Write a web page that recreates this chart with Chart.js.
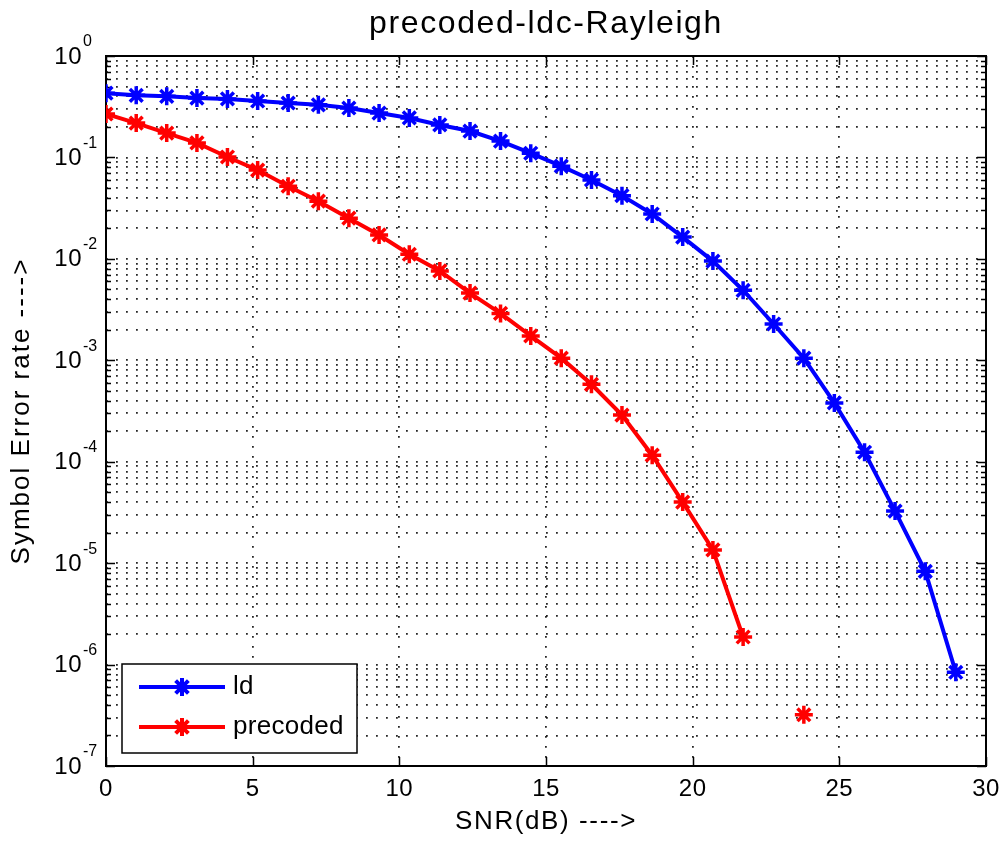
<!DOCTYPE html>
<html>
<head>
<meta charset="utf-8">
<script src="https://cdn.jsdelivr.net/npm/chart.js@4.4.1/dist/chart.umd.min.js"></script>
<style>
  html, body { margin: 0; padding: 0; background: #fff; }
  canvas { display: block; }
</style>
</head>
<body>
<canvas id="serChart" width="1003" height="845"></canvas>
<script>
// SNR points (dB), 30 points from 0 to 30
const snrDb = [0, 1.03, 2.07, 3.10, 4.14, 5.17, 6.21, 7.24, 8.28, 9.31,
               10.34, 11.38, 12.41, 13.45, 14.48, 15.52, 16.55, 17.59, 18.62, 19.66,
               20.69, 21.72, 22.76, 23.79, 24.83, 25.86, 26.90, 27.93, 28.97, 30];

// symbol error rate, null where nothing is plotted (zero errors)
const serLd = [0.43, 0.41, 0.40, 0.385, 0.377, 0.36, 0.344, 0.33, 0.307, 0.274,
               0.245, 0.209, 0.182, 0.145, 0.11, 0.082, 0.06, 0.042, 0.0277, 0.0164,
               0.0095, 0.0049, 0.00228, 0.00105, 3.8e-4, 1.24e-4, 3.26e-5, 8.3e-6, 8.4e-7, null];
const serPrecoded = [0.268, 0.218, 0.174, 0.139, 0.101, 0.075, 0.052, 0.037, 0.0252, 0.0172,
                     0.0111, 0.0076, 0.0046, 0.0029, 0.00174, 0.00105, 5.8e-4, 2.88e-4, 1.16e-4, 4.0e-5,
                     1.35e-5, 1.87e-6, null, 3.2e-7, null, null, null, null, null, null];

const xTicks = [0, 5, 10, 15, 20, 25, 30];
const yExponents = [0, -1, -2, -3, -4, -5, -6, -7];

const titleText = 'precoded-ldc-Rayleigh';
const xTitle = 'SNR(dB) ---->';
const yTitle = 'Symbol Error rate ---->';
const legendNames = ['ld', 'precoded'];
const seriesColors = ['#0000ff', '#ff0000'];

const FONT = '"Liberation Sans", Arial, Helvetica, sans-serif';

function drawText(ctx, s, x, y, size, align, spacing) {
    ctx.font = size + 'px ' + FONT;
    ctx.letterSpacing = (spacing || 0) + 'px';
    ctx.textAlign = align;
    ctx.textBaseline = 'middle';
    ctx.fillStyle = '#000';
    ctx.fillText(s, x, y);
    ctx.letterSpacing = '0px';
}

// all log gridline values 1..9 x 10^e
function logGridValues() {
    const vals = [];
    for (let e = -7; e < 0; e++) {
        for (let m = 1; m <= 9; m++) vals.push(+(m + 'e' + e));
    }
    vals.push(1);
    return vals;
}
function isDecade(v) {
    const l = Math.log10(v);
    return Math.abs(l - Math.round(l)) < 1e-9;
}

// box, inward ticks, labels, legend drawn like a MATLAB figure
const matlabAxes = {
    id: 'matlabAxes',
    beforeDatasetsDraw(chart) {
        const {ctx, chartArea: a, scales: {x, y}} = chart;
        ctx.save();
        ctx.strokeStyle = '#000';
        ctx.lineWidth = 1.5;
        ctx.beginPath();
        xTicks.forEach(v => {
            const px = Math.round(x.getPixelForValue(v)) + 0.5;
            ctx.moveTo(px, a.bottom); ctx.lineTo(px, a.bottom - 9);
            ctx.moveTo(px, a.top); ctx.lineTo(px, a.top + 9);
        });
        y.ticks.forEach(t => {
            const py = Math.round(y.getPixelForValue(t.value)) + 0.5;
            const len = isDecade(t.value) ? 9 : 5;
            ctx.moveTo(a.left, py); ctx.lineTo(a.left + len, py);
            ctx.moveTo(a.right, py); ctx.lineTo(a.right - len, py);
        });
        ctx.stroke();
        ctx.lineWidth = 2;
        ctx.strokeRect(a.left, a.top, a.right - a.left, a.bottom - a.top);
        ctx.restore();
    },
    afterDraw(chart) {
        const {ctx, chartArea: a, scales: {x, y}} = chart;
        ctx.save();
        const cx = (a.left + a.right) / 2;
        const cy = (a.top + a.bottom) / 2;

        drawText(ctx, titleText, cx, 24, 32, 'center', 1.6);

        xTicks.forEach(v => drawText(ctx, String(v), x.getPixelForValue(v), a.bottom + 23, 24, 'center', 0.5));
        drawText(ctx, xTitle, cx, a.bottom + 56, 26, 'center', 1.6);

        yExponents.forEach(e => {
            const py = y.getPixelForValue(Math.pow(10, e));
            drawText(ctx, '10', a.left - 24, py + 1, 24, 'right', 0.5);
            drawText(ctx, String(e), a.left - 23, py - 14, 16, 'left', 0);
        });

        ctx.save();
        ctx.translate(22, cy);
        ctx.rotate(-Math.PI / 2);
        drawText(ctx, yTitle, 0, 0, 26, 'center', 2);
        ctx.restore();

        // legend box
        const bx = a.left + 16, by = a.bottom - 102, bw = 235, bh = 89;
        ctx.fillStyle = '#fff';
        ctx.fillRect(bx, by, bw, bh);
        ctx.strokeStyle = '#000';
        ctx.lineWidth = 1.5;
        ctx.strokeRect(bx, by, bw, bh);
        legendNames.forEach((name, i) => {
            const ly = by + 23 + i * 40;
            ctx.strokeStyle = seriesColors[i];
            ctx.fillStyle = seriesColors[i];
            ctx.lineWidth = 4;
            ctx.beginPath();
            ctx.moveTo(bx + 17, ly); ctx.lineTo(bx + 103, ly);
            ctx.stroke();
            Chart.helpers.drawPoint(ctx, {pointStyle: 'star', radius: 9, borderWidth: 3.5, rotation: 0}, bx + 60, ly);
            drawText(ctx, name, bx + 111, ly, 26, 'left', 0.3);
        });
        ctx.restore();
    }
};

const dotted = {color: 'rgba(0,0,0,0.85)', lineWidth: 1.8, drawTicks: false};

new Chart(document.getElementById('serChart').getContext('2d'), {
    type: 'line',
    data: {
        datasets: [
            {
                label: legendNames[0],
                data: snrDb.map((v, i) => ({x: v, y: serLd[i]})),
                borderColor: seriesColors[0],
                backgroundColor: seriesColors[0],
                borderWidth: 4,
                pointStyle: 'star',
                pointRadius: 9,
                pointBorderWidth: 3.5,
                spanGaps: false,
                fill: false,
            },
            {
                label: legendNames[1],
                data: snrDb.map((v, i) => ({x: v, y: serPrecoded[i]})),
                borderColor: seriesColors[1],
                backgroundColor: seriesColors[1],
                borderWidth: 4,
                pointStyle: 'star',
                pointRadius: 9,
                pointBorderWidth: 3.5,
                spanGaps: false,
                fill: false,
            },
        ],
    },
    options: {
        responsive: false,
        animation: false,
        devicePixelRatio: 1,
        layout: {padding: {top: 56, right: 17, left: 0, bottom: 0}},
        plugins: {
            legend: {display: false},
            tooltip: {enabled: false},
            title: {display: false},
        },
        scales: {
            x: {
                type: 'linear',
                min: 0,
                max: 30,
                ticks: {stepSize: 5, display: false},
                grid: dotted,
                border: {display: false, dash: [1.8, 8.2]},
                afterFit: (scale) => { scale.height = 79; },
            },
            y: {
                type: 'logarithmic',
                min: 1e-7,
                max: 1,
                ticks: {display: false},
                grid: dotted,
                border: {display: false, dash: [1.8, 8.2]},
                afterBuildTicks: (scale) => {
                    scale.ticks = logGridValues().map(v => ({value: v}));
                },
                afterFit: (scale) => { scale.width = 106; },
            },
        },
    },
    plugins: [matlabAxes],
});
</script>
</body>
</html>
